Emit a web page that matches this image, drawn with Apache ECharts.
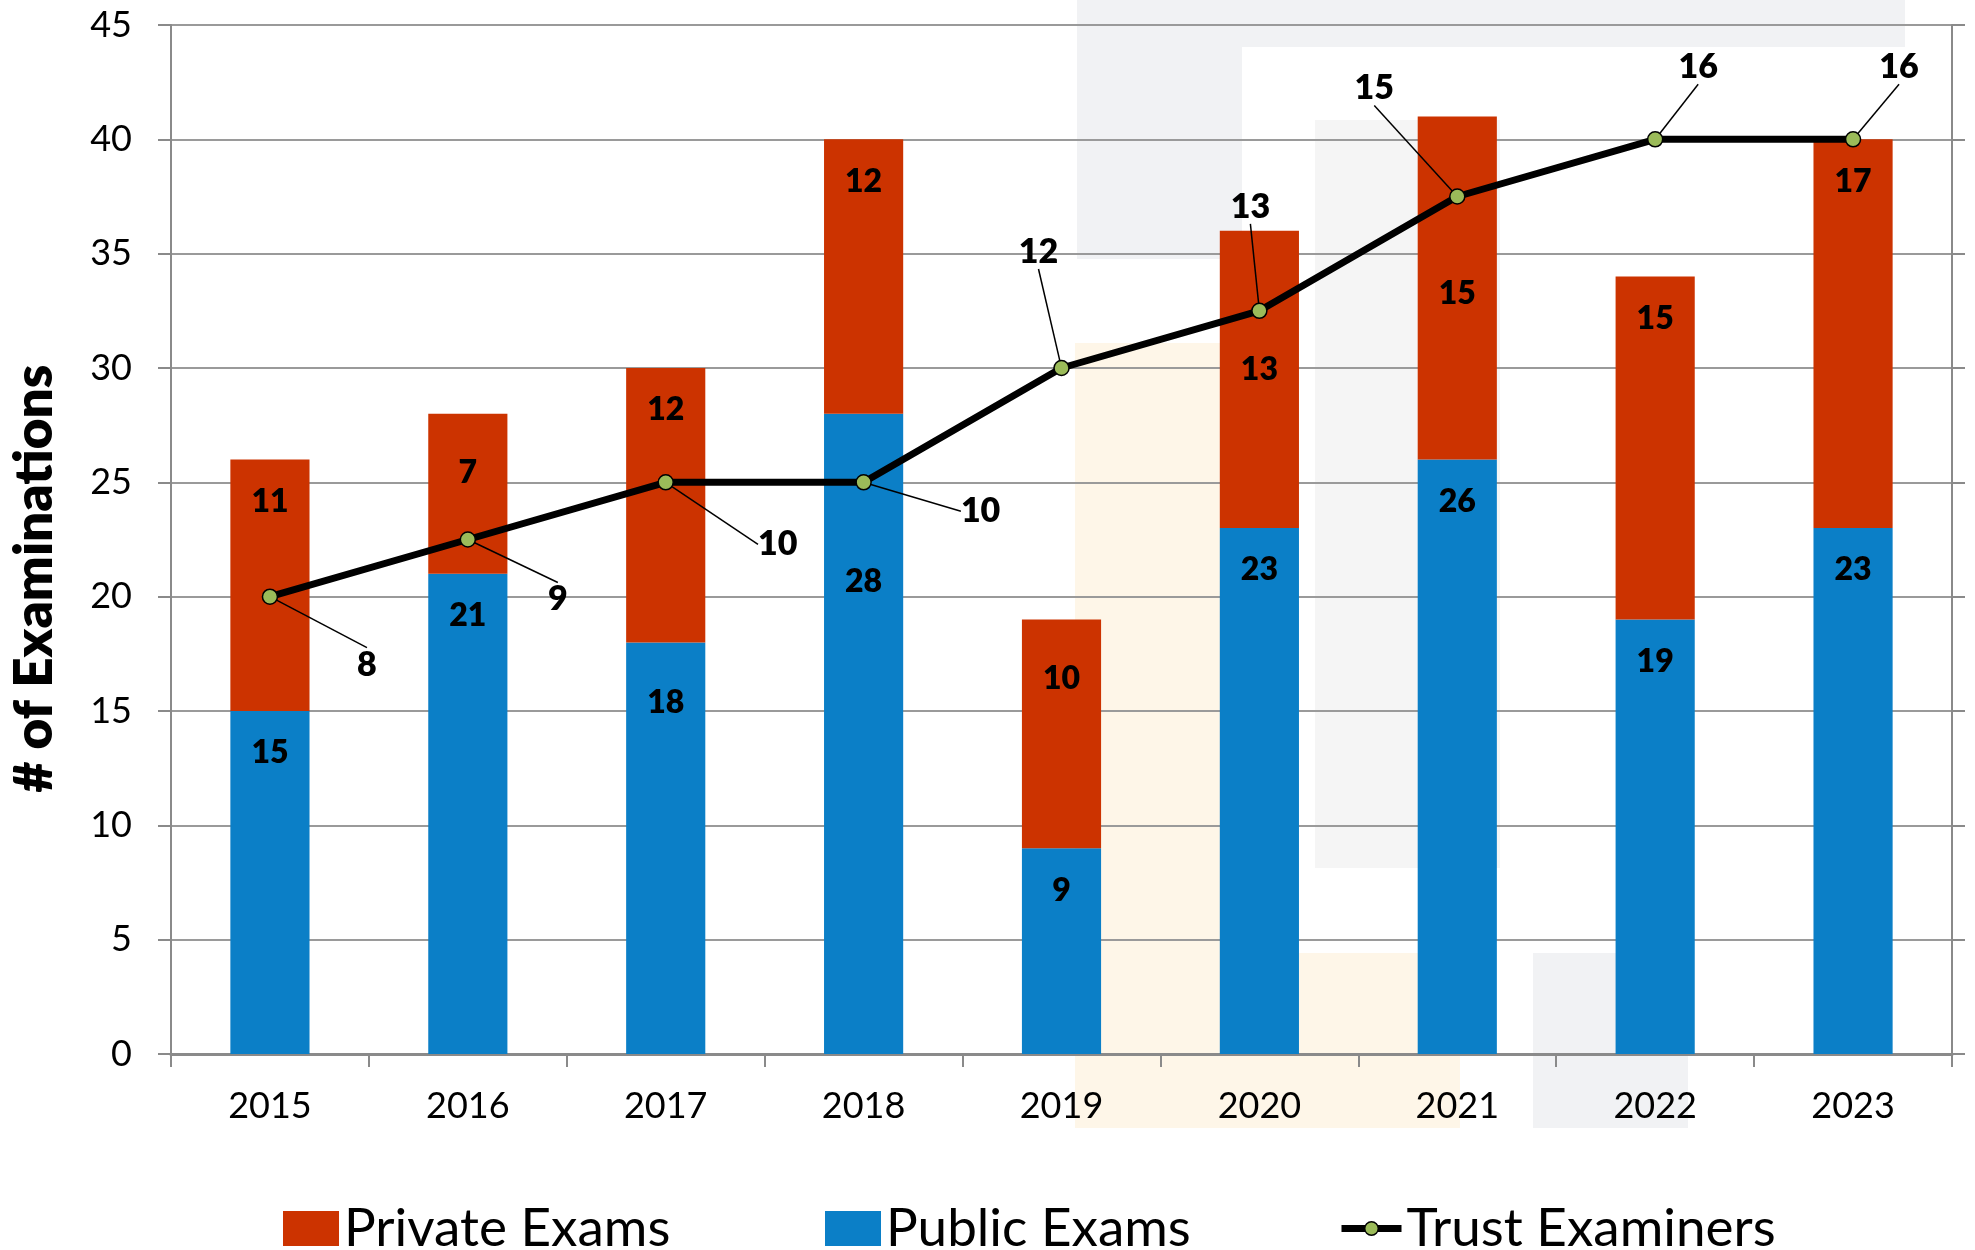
<!DOCTYPE html>
<html>
<head>
<meta charset="utf-8">
<script src="https://cdn.jsdelivr.net/npm/echarts@6/dist/echarts.min.js"></script>
<style>
  html, body { margin: 0; padding: 0; background: #ffffff; }
  #chart { width: 1975px; height: 1250px; }
</style>
</head>
<body>
<div id="chart"></div>
<script>
// ---- data ----
const years = ['2015', '2016', '2017', '2018', '2019', '2020', '2021', '2022', '2023'];
const publicExams = [15, 21, 18, 28, 9, 23, 26, 19, 23];
const privateExams = [11, 7, 12, 12, 10, 13, 15, 15, 17];
const trustExaminers = [8, 9, 10, 10, 12, 13, 15, 16, 16];
const yTicks = [0, 5, 10, 15, 20, 25, 30, 35, 40, 45];

// ---- layout (label shifts in px, not data) ----
const lineLabelShift = [[97, 68], [90, 60], [112, 62], [117, 29], [-23, -116], [-9, -104], [-83, -108], [43, -72], [46, -72]];
const publicLabelDrop = [0, 0, 18, 126, 0, 0, 0, 0, 0];
const privateLabelDrop = [0, 17, 0, 0, 17, 97, 135, 0, 0];

const FONT = 'Lato, "Open Sans", sans-serif';
const GRID_COLOR = '#9a9a9a';
const AXIS_COLOR = '#8a8a8a';

const chart = echarts.init(document.getElementById('chart'), null, { renderer: 'canvas' });

const barLabel = { show: true, position: 'insideTop', distance: 26, fontSize: 32, fontWeight: 800, color: '#000', fontFamily: FONT };
const legendText = { fontSize: 53, color: '#000', fontFamily: FONT };

const option = {
  backgroundColor: '#ffffff',
  animation: false,
  textStyle: { fontFamily: FONT },
  graphic: {
    elements: [
      { type: 'rect', silent: true, z: -10, shape: { x: 1077, y: 0, width: 828, height: 47 }, style: { fill: '#f1f2f4' } },
      { type: 'rect', silent: true, z: -10, shape: { x: 1077, y: 47, width: 165, height: 212 }, style: { fill: '#f1f2f4' } },
      { type: 'rect', silent: true, z: -10, shape: { x: 1315, y: 120, width: 185, height: 748 }, style: { fill: '#f5f5f5' } },
      { type: 'rect', silent: true, z: -10, shape: { x: 1075, y: 343, width: 146, height: 785 }, style: { fill: '#fef6e8' } },
      { type: 'rect', silent: true, z: -10, shape: { x: 1221, y: 953, width: 239, height: 175 }, style: { fill: '#fef6e8' } },
      { type: 'rect', silent: true, z: -10, shape: { x: 1533, y: 953, width: 155, height: 175 }, style: { fill: '#f1f2f4' } }
    ]
  },
  grid: { left: 171, right: 23, top: 25, bottom: 196, containLabel: false },
  legend: [
    { data: ['Private Exams'], left: 278, top: 1197, itemWidth: 56, itemHeight: 35, icon: 'rect', textStyle: legendText },
    { data: ['Public Exams'], left: 820, top: 1197, itemWidth: 56, itemHeight: 35, icon: 'rect', textStyle: legendText },
    {
      data: ['Trust Examiners'], left: 1333, top: 1197, itemWidth: 60, itemHeight: 17, textStyle: legendText,
      lineStyle: { width: 7, color: '#000' },
      itemStyle: { color: '#9bbb59', borderColor: '#000', borderWidth: 1.5 }
    }
  ],
  xAxis: {
    type: 'category',
    data: years,
    axisLine: { lineStyle: { color: AXIS_COLOR, width: 3 } },
    axisTick: { show: true, length: 13, lineStyle: { color: AXIS_COLOR, width: 2 } },
    axisLabel: { fontSize: 36, color: '#000', margin: 34, fontFamily: FONT }
  },
  yAxis: [
    {
      type: 'value',
      min: yTicks[0], max: yTicks[yTicks.length - 1], interval: 5,
      name: '# of Examinations',
      nameLocation: 'middle',
      nameRotate: 90,
      nameGap: 110,
      nameTextStyle: { fontSize: 53, fontWeight: 800, color: '#000', fontFamily: FONT, padding: [0, 78, 0, 0] },
      axisLine: { show: true, lineStyle: { color: AXIS_COLOR, width: 2 } },
      axisTick: { show: true, length: 13, lineStyle: { color: AXIS_COLOR, width: 2 } },
      axisLabel: { fontSize: 36, color: '#000', margin: 39, fontFamily: FONT },
      splitLine: { show: true, lineStyle: { color: GRID_COLOR, width: 2 } }
    },
    {
      type: 'value',
      min: 0, max: 18, interval: 2,
      position: 'right',
      axisLine: { show: true, lineStyle: { color: AXIS_COLOR, width: 2 } },
      axisTick: { show: true, length: 13, lineStyle: { color: AXIS_COLOR, width: 2 } },
      axisLabel: { show: false },
      splitLine: { show: false }
    }
  ],
  series: [
    {
      name: 'Public Exams',
      type: 'bar',
      stack: 'exams',
      barWidth: '40%',
      data: publicExams,
      itemStyle: { color: '#0b7fc7' },
      label: barLabel,
      labelLayout: function (p) { return { dy: publicLabelDrop[p.dataIndex] }; }
    },
    {
      name: 'Private Exams',
      type: 'bar',
      stack: 'exams',
      barWidth: '40%',
      data: privateExams,
      itemStyle: { color: '#cc3300' },
      label: barLabel,
      labelLayout: function (p) { return { dy: privateLabelDrop[p.dataIndex] }; }
    },
    {
      name: 'Trust Examiners',
      type: 'line',
      yAxisIndex: 1,
      data: trustExaminers,
      z: 5,
      symbol: 'circle',
      symbolSize: 15,
      lineStyle: { color: '#000', width: 7 },
      itemStyle: { color: '#9bbb59', borderColor: '#000', borderWidth: 1.5 },
      label: { show: true, position: 'inside', fontSize: 34, fontWeight: 800, color: '#000', fontFamily: FONT },
      labelLine: { show: true, lineStyle: { color: '#000', width: 1.5 } },
      labelLayout: function (p) {
        const s = lineLabelShift[p.dataIndex];
        return { dx: s[0], dy: s[1] };
      }
    }
  ]
};

chart.setOption(option);
</script>
</body>
</html>
